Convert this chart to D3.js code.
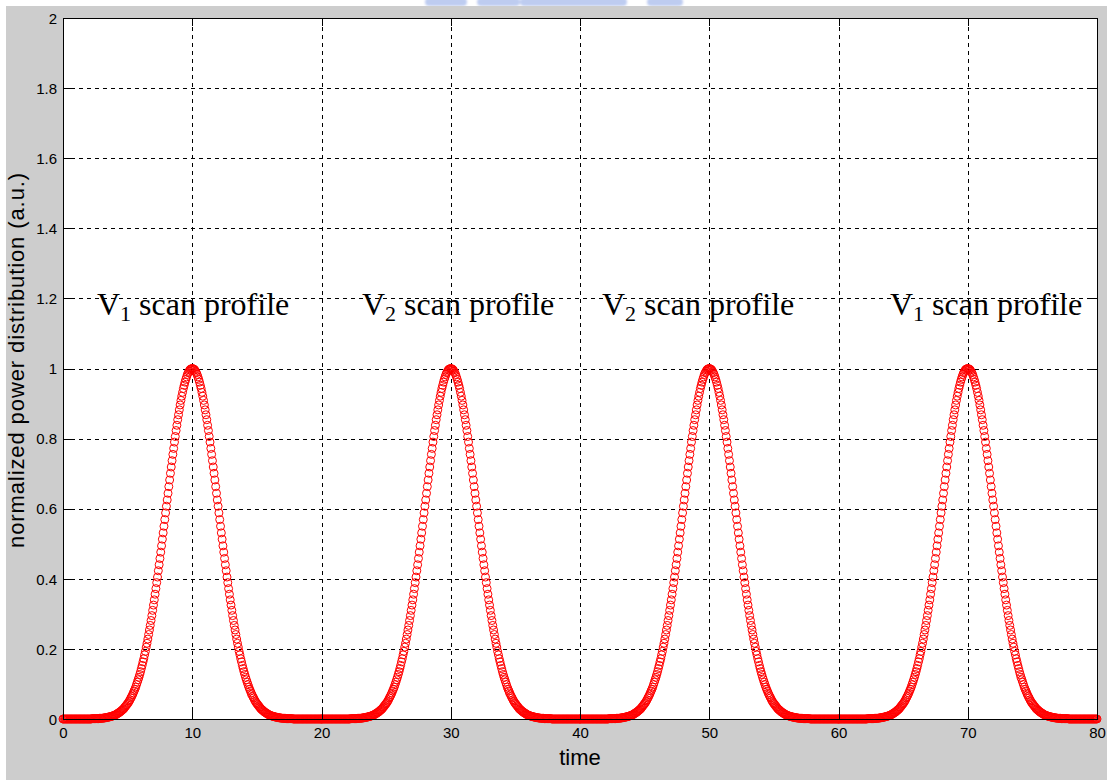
<!DOCTYPE html>
<html>
<head>
<meta charset="utf-8">
<script src="https://cdn.jsdelivr.net/npm/d3@7"></script>
<style>
  html, body { margin: 0; padding: 0; background: #ffffff; }
  svg { display: block; }
</style>
</head>
<body>
<svg id="chart" width="1107" height="780"></svg>
<script>
// Scan pulses: the same normalized profile repeated around each pulse centre.
const pulseCenters = [10, 30, 50, 70];
const profileStart = -10;      // offset of the first profile sample from its centre
const profileStep = 0.0625;    // time between samples
const pulseProfile = [
  0,0,0,0,0,0,0,0,0,0,0,0,0,0,0,0,0,0,0,0,0,0,0,0,0,0,0,0,0,0,0,0,0,0,0,0,
  0.001,0.001,0.001,0.001,0.001,0.001,0.001,0.001,0.001,
  0.002,0.002,0.002,0.002,0.002,0.003,0.003,0.003,0.004,0.004,0.005,0.005,
  0.006,0.006,0.007,0.008,0.008,0.009,0.010,0.011,0.012,0.013,0.015,0.016,
  0.018,0.019,0.021,0.023,0.025,0.027,0.029,0.032,0.035,0.038,0.041,0.044,
  0.047,0.051,0.055,0.060,0.064,0.069,0.074,0.080,0.085,0.091,0.098,0.105,
  0.112,0.119,0.127,0.135,0.144,0.153,0.163,0.172,0.183,0.193,0.205,0.216,
  0.228,0.241,0.254,0.267,0.281,0.295,0.310,0.325,0.340,0.356,0.372,0.389,
  0.405,0.423,0.440,0.458,0.476,0.494,0.513,0.531,0.550,0.569,0.588,0.607,
  0.625,0.644,0.663,0.682,0.701,0.719,0.737,0.755,0.772,0.790,0.806,0.823,
  0.838,0.854,0.868,0.882,0.896,0.909,0.921,0.932,0.943,0.952,0.961,0.969,
  0.976,0.983,0.988,0.992,0.996,0.998,0.9995,
  1,
  0.9995,0.998,0.996,0.992,0.988,0.983,0.976,0.969,0.961,0.952,0.943,0.932,
  0.921,0.909,0.896,0.882,0.868,0.854,0.838,0.823,0.806,0.790,0.772,0.755,
  0.737,0.719,0.701,0.682,0.663,0.644,0.625,0.607,0.588,0.569,0.550,0.531,
  0.513,0.494,0.476,0.458,0.440,0.423,0.405,0.389,0.372,0.356,0.340,0.325,
  0.310,0.295,0.281,0.267,0.254,0.241,0.228,0.216,0.205,0.193,0.183,0.172,
  0.163,0.153,0.144,0.135,0.127,0.119,0.112,0.105,0.098,0.091,0.085,0.080,
  0.074,0.069,0.064,0.060,0.055,0.051,0.047,0.044,0.041,0.038,0.035,0.032,
  0.029,0.027,0.025,0.023,0.021,0.019,0.018,0.016,0.015,0.013,0.012,0.011,
  0.010,0.009,0.008,0.008,0.007,0.006,0.006,0.005,0.005,0.004,0.004,
  0.003,0.003,0.003,0.002,0.002,0.002,0.002,0.002,
  0.001,0.001,0.001,0.001,0.001,0.001,0.001,0.001,0.001,
  0,0,0,0,0,0,0,0,0,0,0,0,0,0,0,0,0,0,0,0,0,0,0,0,0,0,0,0,0,0,0,0,0,0,0,0
];

const xTicks = [0, 10, 20, 30, 40, 50, 60, 70, 80];
const yTicks = [0, 0.2, 0.4, 0.6, 0.8, 1, 1.2, 1.4, 1.6, 1.8, 2];
const yTickLabels = ["0", "0.2", "0.4", "0.6", "0.8", "1", "1.2", "1.4", "1.6", "1.8", "2"];

const xLabel = "time";
const yLabel = "normalized power distribution (a.u.)";

// Text labels placed in data coordinates (left end, baseline).
const annotations = [
  { base: "V", sub: "1", rest: " scan profile", x: 2.63, y: 1.153 },
  { base: "V", sub: "2", rest: " scan profile", x: 23.13, y: 1.153 },
  { base: "V", sub: "2", rest: " scan profile", x: 41.70, y: 1.153 },
  { base: "V", sub: "1", rest: " scan profile", x: 63.98, y: 1.153 }
];

// Flatten pulses into (time, power) samples.
const samples = [];
pulseCenters.forEach(c => {
  pulseProfile.forEach((v, i) => {
    samples.push({ t: c + profileStart + i * profileStep, p: v });
  });
});

const svg = d3.select("#chart");
const W = 1107, H = 780;
const plot = { left: 63, top: 18, right: 1097, bottom: 719 };

// Window background
svg.append("rect").attr("x", 0).attr("y", 0).attr("width", W).attr("height", H).attr("fill", "#ffffff");

// Faint blue mark peeking in along the top edge
const defs = svg.append("defs");
defs.append("filter").attr("id", "soft").append("feGaussianBlur").attr("stdDeviation", 1.2);
const topMark = svg.append("g").attr("opacity", 0.45).attr("filter", "url(#soft)");
[[425, 42], [477, 43], [520, 107], [647, 36]].forEach(([x0, w]) => {
  topMark.append("rect").attr("x", x0).attr("y", -2).attr("width", w).attr("height", 8)
    .attr("rx", 4).attr("fill", "#6f8fe0");
});

svg.append("rect").attr("x", 6).attr("y", 6).attr("width", W - 6).attr("height", H - 6).attr("fill", "#cdcdcd");

const x = d3.scaleLinear().domain([0, 80]).range([plot.left, plot.right]);
const y = d3.scaleLinear().domain([0, 2]).range([plot.bottom, plot.top]);
const pw = plot.right - plot.left, ph = plot.bottom - plot.top;

svg.append("rect").attr("x", plot.left).attr("y", plot.top).attr("width", pw).attr("height", ph)
  .attr("fill", "#ffffff");

// Grid
const grid = svg.append("g").attr("class", "grid");
grid.append("g").attr("transform", `translate(0,${plot.bottom})`)
  .call(d3.axisBottom(x).tickValues(xTicks.slice(1, -1)).tickSize(-ph).tickFormat(""))
  .call(g => g.select(".domain").remove());
grid.append("g").attr("transform", `translate(${plot.left},0)`)
  .call(d3.axisLeft(y).tickValues(yTicks.slice(1, -1)).tickSize(-pw).tickFormat(""))
  .call(g => g.select(".domain").remove());
grid.selectAll("line").attr("stroke", "#000").attr("stroke-width", 1)
  .attr("stroke-dasharray", "4,4").attr("shape-rendering", "crispEdges");

// Markers
svg.append("g").selectAll("circle").data(samples).join("circle")
  .attr("cx", d => x(d.t)).attr("cy", d => y(d.p)).attr("r", 4)
  .attr("fill", "none").attr("stroke", "#ff0000").attr("stroke-width", 1);

// Axes with inward ticks
const tickLen = 8;
const fontAxis = "'Liberation Sans', Arial, Helvetica, sans-serif";
const axB = svg.append("g").attr("transform", `translate(0,${plot.bottom})`)
  .call(d3.axisBottom(x).tickValues(xTicks).tickSize(-tickLen).tickSizeOuter(0).tickPadding(8)
    .tickFormat(d => String(d)));
const axT = svg.append("g").attr("transform", `translate(0,${plot.top})`)
  .call(d3.axisTop(x).tickValues(xTicks).tickSize(-tickLen).tickSizeOuter(0).tickFormat(""));
const axL = svg.append("g").attr("transform", `translate(${plot.left},0)`)
  .call(d3.axisLeft(y).tickValues(yTicks).tickSize(-tickLen).tickSizeOuter(0).tickPadding(6)
    .tickFormat((d, i) => yTickLabels[i]));
const axR = svg.append("g").attr("transform", `translate(${plot.right},0)`)
  .call(d3.axisRight(y).tickValues(yTicks).tickSize(-tickLen).tickSizeOuter(0).tickFormat(""));
[axB, axT, axL, axR].forEach(a => {
  a.selectAll("path.domain").attr("stroke", "#000").attr("stroke-width", 1).attr("shape-rendering", "crispEdges");
  a.selectAll(".tick line").attr("stroke", "#000").attr("shape-rendering", "crispEdges");
  a.selectAll("text").attr("font-family", fontAxis).attr("font-size", 15).attr("fill", "#000");
});
axL.selectAll("text").attr("dy", "0.35em");

// Axis titles
svg.append("text").attr("x", (plot.left + plot.right) / 2).attr("y", 765)
  .attr("text-anchor", "middle").attr("font-family", fontAxis).attr("font-size", 22)
  .attr("fill", "#000").text(xLabel);
svg.append("text").attr("transform", `translate(24,360) rotate(-90)`)
  .attr("text-anchor", "middle").attr("font-family", fontAxis).attr("font-size", 22)
  .attr("letter-spacing", 0.9).attr("fill", "#000").text(yLabel);

// Scan profile labels
const fontSerif = "'Liberation Serif', 'Times New Roman', Times, serif";
annotations.forEach(a => {
  const t = svg.append("text").attr("x", x(a.x)).attr("y", y(a.y))
    .attr("font-family", fontSerif).attr("font-size", 32).attr("fill", "#000");
  t.append("tspan").text(a.base);
  t.append("tspan").attr("font-size", 22).attr("dy", 6).text(a.sub);
  t.append("tspan").attr("dy", -6).text(a.rest);
});
</script>
</body>
</html>
